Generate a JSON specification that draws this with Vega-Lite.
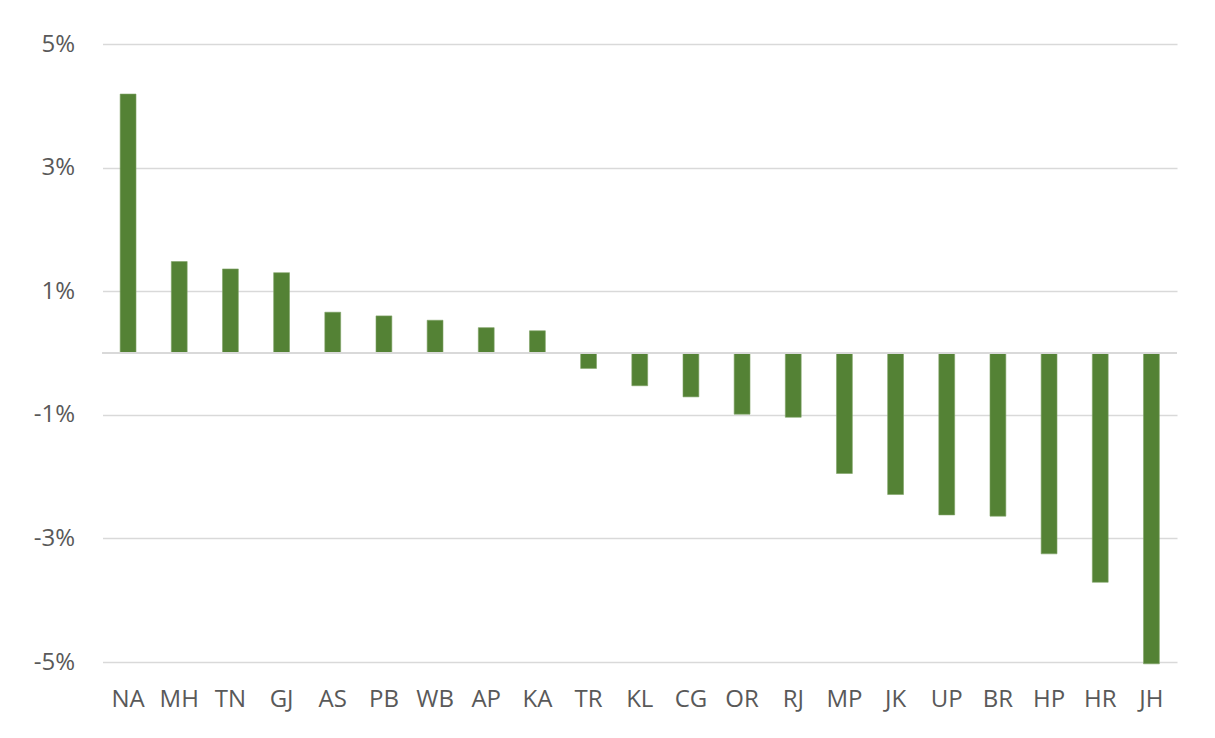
{
  "$schema": "https://vega.github.io/schema/vega-lite/v6.json",
  "autosize": {"type": "none"},
  "width": 1074.5,
  "height": 618,
  "padding": {"left": 102.5, "top": 44, "right": 38, "bottom": 76},
  "background": "#ffffff",
  "config": {
    "view": {"stroke": null},
    "font": "Open Sans",
    "axis": {
      "labelFont": "Open Sans",
      "labelFontSize": 24,
      "labelColor": "#595959",
      "domain": false,
      "ticks": false,
      "title": null
    }
  },
  "data": {
    "values": [
      {"state": "NA", "change": 4.19},
      {"state": "MH", "change": 1.48},
      {"state": "TN", "change": 1.36},
      {"state": "GJ", "change": 1.30},
      {"state": "AS", "change": 0.66},
      {"state": "PB", "change": 0.60},
      {"state": "WB", "change": 0.53},
      {"state": "AP", "change": 0.41},
      {"state": "KA", "change": 0.36},
      {"state": "TR", "change": -0.25},
      {"state": "KL", "change": -0.53},
      {"state": "CG", "change": -0.71},
      {"state": "OR", "change": -0.99},
      {"state": "RJ", "change": -1.04},
      {"state": "MP", "change": -1.95},
      {"state": "JK", "change": -2.29},
      {"state": "UP", "change": -2.62},
      {"state": "BR", "change": -2.64},
      {"state": "HP", "change": -3.25},
      {"state": "HR", "change": -3.71},
      {"state": "JH", "change": -5.03}
    ]
  },
  "layer": [
    {
      "mark": {"type": "bar", "color": "#548235", "stroke": "#7fa366", "strokeWidth": 0.6},
      "encoding": {
        "x": {
          "field": "state",
          "type": "nominal",
          "sort": null,
          "scale": {"paddingInner": 0.69, "paddingOuter": 0.345},
          "axis": {"labelAngle": 0, "labelPadding": 25, "grid": false}
        },
        "y": {
          "field": "change",
          "type": "quantitative",
          "scale": {"domain": [-5, 5], "nice": false, "zero": false},
          "axis": {
            "values": [-5, -3, -1, 1, 3, 5],
            "labelExpr": "datum.value + '%'",
            "labelPadding": 28,
            "grid": true,
            "gridColor": "#d9d9d9",
            "gridWidth": 1.3
          }
        }
      }
    },
    {
      "mark": {"type": "rule", "color": "#d9d9d9", "strokeWidth": 2},
      "encoding": {"y": {"datum": 0}}
    }
  ]
}
